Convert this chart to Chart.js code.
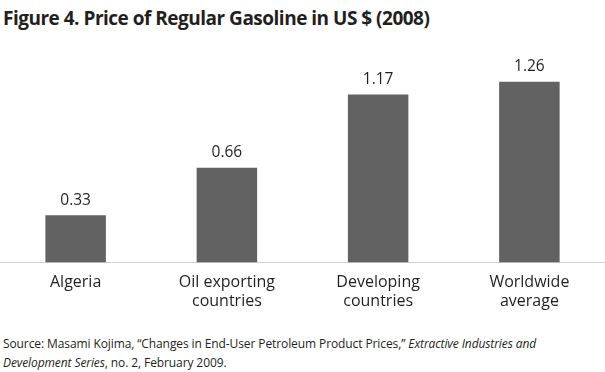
<!DOCTYPE html>
<html>
<head>
<meta charset="utf-8">
<script src="https://cdn.jsdelivr.net/npm/chart.js@4/dist/chart.umd.min.js"></script>
<style>
  html,body{margin:0;padding:0;background:#fff;}
  #wrap{position:relative;width:605px;height:372px;overflow:hidden;font-family:"Open Sans",sans-serif;color:#231f20;}
  #title{position:absolute;left:3px;top:5px;font-size:19px;font-weight:bold;letter-spacing:-0.5px;white-space:nowrap;}
  #chartbox{position:absolute;left:0;top:0;width:605px;height:321px;}
  #src{position:absolute;left:3px;top:334px;font-size:12px;line-height:19px;white-space:nowrap;letter-spacing:-0.1px;}
</style>
</head>
<body>
<div id="wrap">
  <div id="title">Figure 4. Price of Regular Gasoline in US $ (2008)</div>
  <div id="chartbox"><canvas id="c"></canvas></div>
  <div id="src">Source: Masami Kojima, “Changes in End-User Petroleum Product Prices,” <i>Extractive Industries and</i><br><i>Development Series</i>, no. 2, February 2009.</div>
</div>
<script>
const categories = [["Algeria"], ["Oil exporting", "countries"], ["Developing", "countries"], ["Worldwide", "average"]];
const prices = [0.33, 0.66, 1.17, 1.26];
const valueLabels = ["0.33", "0.66", "1.17", "1.26"];

const labelPlugin = {
  id: "valueLabels",
  afterDatasetsDraw(chart) {
    const ctx = chart.ctx;
    const meta = chart.getDatasetMeta(0);
    ctx.save();
    ctx.font = "15.5px 'Open Sans', sans-serif";
    ctx.fillStyle = "#231f20";
    ctx.textAlign = "center";
    ctx.textBaseline = "bottom";
    meta.data.forEach((bar, i) => {
      ctx.fillText(valueLabels[i], bar.x, bar.y - 7);
    });
    ctx.restore();
  }
};

new Chart(document.getElementById("c"), {
  type: "bar",
  data: {
    labels: categories,
    datasets: [{
      data: prices,
      backgroundColor: "#626262",
      borderWidth: 0,
      barPercentage: 0.5,
      categoryPercentage: 0.8
    }]
  },
  options: {
    responsive: true,
    maintainAspectRatio: false,
    animation: false,
    layout: { padding: { top: 40, left: 0, right: 0, bottom: 0 } },
    plugins: { legend: { display: false }, tooltip: { enabled: false } },
    scales: {
      y: { display: false, min: 0, max: 1.55 },
      x: {
        grid: { display: false, drawTicks: false },
        border: { display: true, color: "#cfcfcf", width: 1 },
        ticks: { color: "#231f20", font: { family: "'Open Sans', sans-serif", size: 16 }, padding: 10, maxRotation: 0 }
      }
    }
  },
  plugins: [labelPlugin]
});
</script>
</body>
</html>
